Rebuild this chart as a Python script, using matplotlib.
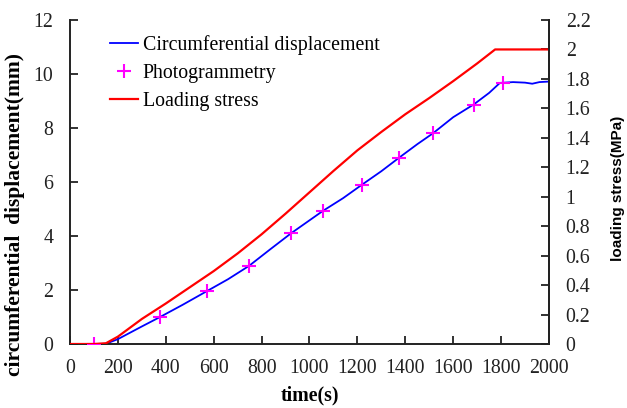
import matplotlib
matplotlib.use("Agg")
import matplotlib.pyplot as plt
from matplotlib.ticker import FuncFormatter

# ---- data ----
disp_t = [0, 100, 150, 200, 300, 376, 470, 572, 660, 747, 835, 923, 1056, 1140,
          1219, 1300, 1374, 1450, 1515, 1600, 1687, 1750, 1795, 1850, 1900, 1930,
          1960, 2000]
disp_v = [0, 0, 0.01, 0.18, 0.65, 1.0, 1.45, 1.96, 2.4, 2.89, 3.5, 4.1, 4.93, 5.4,
          5.9, 6.4, 6.9, 7.4, 7.8, 8.4, 8.88, 9.3, 9.67, 9.7, 9.68, 9.64,
          9.7, 9.72]

photo_t = [100, 376, 572, 747, 923, 1056, 1219, 1374, 1515, 1685, 1810]
photo_v = [0, 1.0, 1.96, 2.89, 4.1, 4.93, 5.9, 6.9, 7.8, 8.85, 9.66]

stress_t = [0, 100, 150, 200, 300, 400, 500, 600, 700, 800, 900, 1000, 1100, 1200,
            1300, 1400, 1500, 1600, 1700, 1775, 1800, 1900, 2000]
stress_v = [0, 0.0, 0.005, 0.05, 0.17, 0.275, 0.385, 0.495, 0.615, 0.745, 0.885, 1.03,
            1.175, 1.315, 1.44, 1.56, 1.67, 1.785, 1.905, 2.0, 2.0, 2.0, 2.0]

x_ticks = list(range(0, 2001, 200))
left_ticks = [0, 2, 4, 6, 8, 10, 12]
right_ticks = [0, 0.2, 0.4, 0.6, 0.8, 1.0, 1.2, 1.4, 1.6, 1.8, 2.0, 2.2]

serif = "Liberation Serif"
fs = 14.3

fig = plt.figure(figsize=(6.27, 4.08), dpi=100)
ax = fig.add_axes([70/627, 1-344/408, (549-70)/627, (344-20)/408])
ax2 = ax.twinx()

l1, = ax.plot(disp_t, disp_v, color="#0000FF", lw=1.3, label="Circumferential displacement")
l2, = ax.plot(photo_t, photo_v, ls="none", marker="+", color="#FF00FF", ms=10, mew=1.5,
              label="Photogrammetry", zorder=5)
l3, = ax2.plot(stress_t, stress_v, color="#FF0000", lw=1.6, label="Loading stress")

ax.set_xlim(0, 2000)
ax.set_ylim(0, 12)
ax2.set_ylim(0, 2.2)
ax.set_xticks(x_ticks)
ax.set_yticks(left_ticks)
ax2.set_yticks(right_ticks)
ax2.yaxis.set_major_formatter(FuncFormatter(lambda v, p: f"{v:g}"))

for a in (ax, ax2):
    a.spines["top"].set_visible(False)
    for s in a.spines.values():
        s.set_linewidth(1.4)
        s.set_color("#222222")
ax2.spines["left"].set_visible(False)
ax2.spines["bottom"].set_visible(False)

ax.tick_params(axis="both", direction="in", length=6, width=1.3, color="#222222",
               labelsize=fs, pad=11)
ax.tick_params(axis="y", pad=12)
ax2.tick_params(axis="y", direction="in", length=6, width=1.3, color="#222222",
                labelsize=fs, pad=12)
for lab in ax.get_xticklabels() + ax.get_yticklabels() + ax2.get_yticklabels():
    lab.set_fontfamily(serif)
    lab.set_color("#222222")

ax.set_xlabel("time(s)", fontfamily=serif, fontweight="bold", fontsize=fs)
ax.xaxis.set_label_coords(0.5, -(385 - 344) / 324, transform=ax.transAxes)
ax.set_ylabel("circumferential  displacement(mm)", fontfamily=serif, fontweight="bold",
              fontsize=15.5)
ax.yaxis.set_label_coords((25 - 70) / 479, (344 - 215) / 324)
ax2.set_ylabel("loading stress(MPa)", fontfamily="Liberation Sans", fontweight="bold",
               fontsize=11)
ax2.yaxis.set_label_coords((611 - 70) / 479, (344 - 188) / 324)

leg = ax.legend(handles=[l1, l2, l3], loc="upper left",
                bbox_to_anchor=(32/479, 1 - 7/324), frameon=False,
                prop={"family": serif, "size": fs}, handlelength=1.4,
                handletextpad=0.25, labelspacing=0.45, borderaxespad=0)

fig.savefig("out.png", dpi=100)
